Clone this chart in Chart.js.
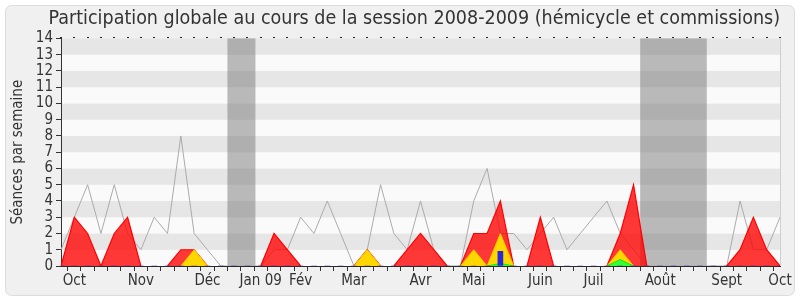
<!DOCTYPE html>
<html>
<head>
<meta charset="utf-8">
<script src="https://cdn.jsdelivr.net/npm/chart.js@4"></script>
<style>
  html, body { margin: 0; padding: 0; background: #fff; }
  #wrap { width: 800px; height: 300px; }
</style>
</head>
<body>
<div id="wrap"><canvas id="chart" width="800" height="300"></canvas></div>
<script>
// ===== DONNEES =====
const semaines = Array.from({ length: 55 }, (_, i) => String(i));
const moisNoms = ['Oct', 'Nov', 'Déc', 'Jan 09', 'Fév', 'Mar', 'Avr', 'Mai', 'Juin', 'Juil', 'Août', 'Sept', 'Oct'];
const moisSemaines = [1, 6, 11, 15, 18, 22, 27, 31, 36, 40, 45, 50, 54];

// ligne grise
const totalSeances = [1, 3, 5, 2, 5, 2, 1, 3, 2, 8, 2, 1, 0, 0, 0, 0, 1, 1, 3, 2, 4, 2, 0, 1, 5, 2, 1, 4, 1, 0,
  0, 4, 6, 2, 2, 1, 2, 3, 1, 2, 3, 4, 2, 1, 0, 0, 0, 0, 0, 0, 0, 4, 1, 1, 3];
// rouge
const presences = [0, 3, 2, 0, 2, 3, 0, 0, 0, 1, 1, 0, 0, 0, 0, 0, 2, 1, 0, 0, 0, 0, 0, 1, 0, 0, 1, 2, 1, 0,
  0, 2, 2, 4, 0, 0, 3, 0, 0, 0, 0, 0, 2, 5, 0, 0, 0, 0, 0, 0, 0, 1, 3, 1, 0];
// jaune
const interventions = [0, 0, 0, 0, 0, 0, 0, 0, 0, 0, 1, 0, 0, 0, 0, 0, 0, 0, 0, 0, 0, 0, 0, 1, 0, 0, 0, 0, 0, 0,
  0, 1, 0, 2, 0, 0, 0, 0, 0, 0, 0, 0, 1, 0, 0, 0, 0, 0, 0, 0, 0, 0, 0, 0, 0];
// vert
const hemicycle = [0, 0, 0, 0, 0, 0, 0, 0, 0, 0, 0, 0, 0, 0, 0, 0, 0, 0, 0, 0, 0, 0, 0, 0, 0, 0, 0, 0, 0, 0,
  0, 0, 0, 0.15, 0, 0, 0, 0, 0, 0, 0, 0, 0.4, 0, 0, 0, 0, 0, 0, 0, 0, 0, 0, 0, 0];
// bleu
const questions = [0, 0, 0, 0, 0, 0, 0, 0, 0, 0, 0, 0, 0, 0, 0, 0, 0, 0, 0, 0, 0, 0, 0, 0, 0, 0, 0, 0, 0, 0,
  0, 0, 0, 0.9, 0, 0, 0, 0, 0, 0, 0, 0, 0, 0, 0, 0, 0, 0, 0, 0, 0, 0, 0, 0, 0];

const vacancesDebut = [12.5, 43.5];
const vacancesFin = [14.6, 48.5];

const yTicks = [0, 14];

const FONT = '"DejaVu Sans Condensed", "DejaVu Sans", sans-serif';
const TXT = '#333';

// pas de trait sur les segments a zero
const hideZero = ctx => (ctx.p0.parsed.y === 0 && ctx.p1.parsed.y === 0) ? 'rgba(0,0,0,0)' : undefined;

// ===== FOND, BANDES, VACANCES =====
const decor = {
  id: 'decor',
  beforeDraw(chart) {
    const { ctx, chartArea: a, scales: { y } } = chart;
    ctx.save();
    ctx.fillStyle = '#fff';
    ctx.fillRect(0, 0, chart.width, chart.height);
    ctx.beginPath();
    ctx.roundRect(5.5, 5.5, 789, 290, 6);
    ctx.fillStyle = '#f0f0f0';
    ctx.fill();
    ctx.strokeStyle = '#dcdcdc';
    ctx.lineWidth = 1;
    ctx.stroke();
    // bandes horizontales
    for (let v = yTicks[0]; v < yTicks[1]; v++) {
      const top = y.getPixelForValue(v + 1), bot = y.getPixelForValue(v);
      ctx.fillStyle = v % 2 === 1 ? '#e6e6e6' : '#fafafa';
      ctx.fillRect(a.left, top, a.right - a.left, bot - top);
    }
    ctx.restore();
  },
  beforeDatasetsDraw(chart) {
    const { ctx, chartArea: a, scales: { x } } = chart;
    ctx.save();
    ctx.fillStyle = 'rgba(120,120,120,0.5)';
    vacancesDebut.forEach((d, i) => {
      const x0 = x.getPixelForValue(d), x1 = x.getPixelForValue(vacancesFin[i]);
      ctx.fillRect(x0, a.top, x1 - x0, a.bottom - a.top);
    });
    ctx.restore();
  },
  afterDatasetsDraw(chart) {
    const { ctx, chartArea: a, scales: { x } } = chart;
    ctx.save();
    // ligne de base
    ctx.strokeStyle = '#2a2a2a';
    ctx.lineWidth = 1;
    ctx.beginPath();
    ctx.moveTo(a.left, Math.round(a.bottom) + 0.5);
    ctx.lineTo(a.right, Math.round(a.bottom) + 0.5);
    ctx.stroke();
    // bord droit
    ctx.strokeStyle = '#cfcfcf';
    ctx.beginPath();
    ctx.moveTo(Math.round(a.right) + 0.5, a.top);
    ctx.lineTo(Math.round(a.right) + 0.5, a.bottom);
    ctx.stroke();
    // petits points en haut
    ctx.fillStyle = '#222';
    semaines.forEach((_, i) => {
      const px = Math.round(x.getPixelForValue(i));
      ctx.fillRect(px - 1, Math.round(a.top) - 1, 2, 1);
    });
    ctx.restore();
  }
};

// ===== CHART =====
new Chart(document.getElementById('chart'), {
  type: 'line',
  data: {
    labels: semaines,
    datasets: [
      {
        label: 'Total',
        data: totalSeances,
        borderColor: '#ababab',
        borderWidth: 1,
        pointRadius: 0,
        tension: 0,
        fill: false,
        order: 5
      },
      {
        label: 'Présences',
        data: presences,
        borderColor: '#ff0000',
        backgroundColor: 'rgba(255,0,0,0.78)',
        borderWidth: 1.2,
        pointRadius: 0,
        tension: 0,
        fill: 'origin',
        segment: { borderColor: hideZero },
        order: 4
      },
      {
        label: 'Interventions',
        data: interventions,
        borderColor: '#ffc400',
        backgroundColor: '#ffd700',
        borderWidth: 1,
        pointRadius: 0,
        tension: 0,
        fill: 'origin',
        segment: { borderColor: hideZero },
        order: 3
      },
      {
        label: 'Hémicycle',
        data: hemicycle,
        borderColor: '#22dd22',
        backgroundColor: '#33ff33',
        borderWidth: 1,
        pointRadius: 0,
        tension: 0,
        fill: 'origin',
        segment: { borderColor: hideZero },
        order: 2
      },
      {
        type: 'bar',
        label: 'Questions',
        data: questions,
        backgroundColor: '#2828d8',
        barThickness: 5,
        order: 1
      }
    ]
  },
  options: {
    responsive: false,
    animation: false,
    layout: { padding: { left: 0, right: 20, top: 0, bottom: 9 } },
    plugins: {
      legend: { display: false },
      tooltip: { enabled: false },
      title: {
        display: true,
        align: 'end',
        text: 'Participation globale au cours de la session 2008-2009 (hémicycle et commissions)',
        color: TXT,
        font: { family: FONT, size: 19.5, weight: 'normal' },
        padding: { top: 7, bottom: 8 }
      }
    },
    scales: {
      x: {
        type: 'category',
        offset: false,
        grid: { drawOnChartArea: false, drawTicks: true, tickLength: 5, color: '#333' },
        border: { display: true, color: '#333' },
        ticks: {
          autoSkip: false,
          maxRotation: 0,
          padding: 1,
          color: TXT,
          font: { family: FONT, size: 15 },
          callback: (v, i) => {
            const k = moisSemaines.indexOf(i);
            return k >= 0 ? moisNoms[k] : '';
          }
        }
      },
      y: {
        min: yTicks[0],
        max: yTicks[1],
        grid: { drawOnChartArea: false, drawTicks: true, tickLength: 5, color: '#333' },
        border: { display: true, color: '#333' },
        title: {
          display: true,
          text: 'Séances par semaine',
          color: TXT,
          font: { family: FONT, size: 15 },
          padding: { top: 9, bottom: 0 }
        },
        ticks: {
          stepSize: 1,
          autoSkip: false,
          padding: 3,
          color: TXT,
          font: { family: FONT, size: 15 }
        },
        afterFit: s => { s.width = 61; }
      }
    }
  },
  plugins: [decor]
});
</script>
</body>
</html>
